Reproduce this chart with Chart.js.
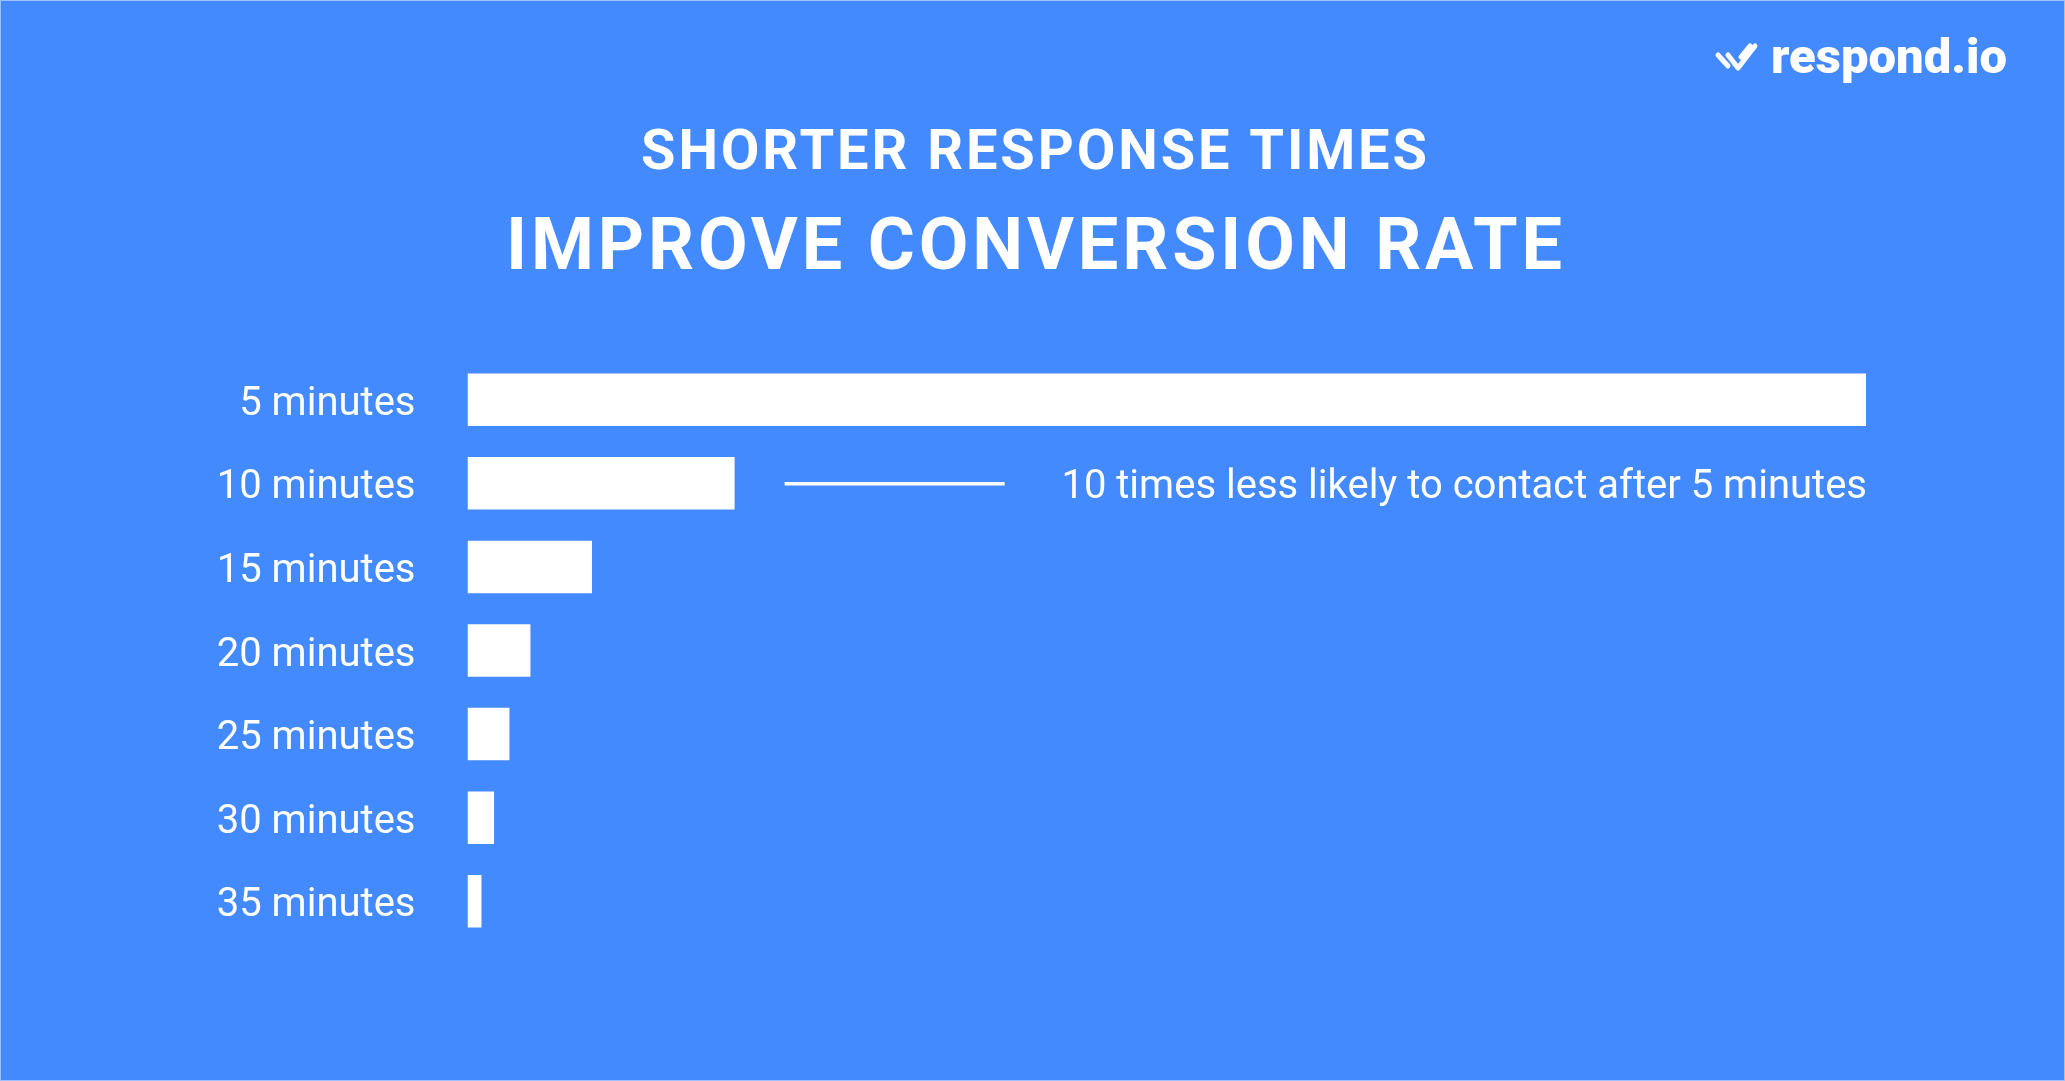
<!DOCTYPE html>
<html>
<head>
<meta charset="utf-8">
<script src="https://cdn.jsdelivr.net/npm/chart.js@4"></script>
<style>
  html, body { margin: 0; padding: 0; background: #448AFF; overflow: hidden; }
  #wrap { width: 2065px; height: 1081px; }
</style>
</head>
<body>
<div id="wrap"><canvas id="c" width="2065" height="1081"></canvas></div>
<script>
// ---- data ----
const categories = ["5 minutes", "10 minutes", "15 minutes", "20 minutes", "25 minutes", "30 minutes", "35 minutes"];
const values = [100, 19.1, 8.9, 4.5, 3.0, 1.9, 1.0];
const titleLine1 = "SHORTER RESPONSE TIMES";
const titleLine2 = "IMPROVE CONVERSION RATE";
const annotationText = "10 times less likely to contact after 5 minutes";
const annotationCategory = "10 minutes";
const logoText = "respond.io";

const BG = "#448AFF";
const FG = "#FFFFFF";

function drawSpaced(ctx, text, font, left, right, baseline) {
  ctx.save();
  ctx.font = font;
  ctx.letterSpacing = "0px";
  const n = text.length;
  const w0 = ctx.measureText(text).width;
  const sp = (right - left - w0) / (n - 1);
  ctx.letterSpacing = sp + "px";
  ctx.textAlign = "left";
  ctx.textBaseline = "alphabetic";
  ctx.fillStyle = FG;
  ctx.fillText(text, left, baseline);
  ctx.restore();
}

const decorPlugin = {
  id: "decor",
  beforeDraw(chart) {
    const ctx = chart.ctx;
    const W = chart.width, H = chart.height;
    ctx.save();
    ctx.fillStyle = BG;
    ctx.fillRect(0, 0, W, H);
    ctx.strokeStyle = "#9DC0FF";
    ctx.lineWidth = 2;
    ctx.strokeRect(0, 0, W, H);
    ctx.restore();
  },
  afterDraw(chart) {
    const ctx = chart.ctx;
    const xs = chart.scales.x, ys = chart.scales.y;
    // titles
    drawSpaced(ctx, titleLine1, "700 56px Roboto", 641, 1427, 169);
    drawSpaced(ctx, titleLine2, "700 72px Roboto", 506, 1562, 269);

    // annotation
    const idx = categories.indexOf(annotationCategory);
    const yc = ys.getPixelForValue(idx);
    const barEnd = xs.getPixelForValue(values[idx]);
    ctx.save();
    ctx.strokeStyle = FG;
    ctx.lineWidth = 3.5;
    ctx.beginPath();
    ctx.moveTo(barEnd + 50, yc + 0.5);
    ctx.lineTo(barEnd + 270, yc + 0.5);
    ctx.stroke();
    ctx.font = "400 40px Roboto";
    ctx.fillStyle = FG;
    ctx.textAlign = "right";
    ctx.textBaseline = "alphabetic";
    ctx.fillText(annotationText, chart.chartArea.right + 1, yc + 14.5);
    ctx.restore();

    // logo
    ctx.save();
    ctx.strokeStyle = FG;
    ctx.lineWidth = 5;
    ctx.lineCap = "round";
    ctx.lineJoin = "round";
    ctx.beginPath();
    ctx.moveTo(1718, 55); ctx.lineTo(1728, 66);
    ctx.moveTo(1728, 55); ctx.lineTo(1738, 68); ctx.lineTo(1755, 46);
    ctx.moveTo(1741, 57); ctx.lineTo(1750, 46);
    ctx.stroke();
    ctx.font = "900 49px Roboto";
    ctx.fillStyle = FG;
    ctx.textAlign = "left";
    ctx.textBaseline = "alphabetic";
    ctx.fillText(logoText, 1771, 73);
    ctx.restore();
  }
};

function build() {
  new Chart(document.getElementById("c"), {
    type: "bar",
    data: {
      labels: categories,
      datasets: [{
        data: values,
        backgroundColor: FG,
        borderWidth: 0,
        categoryPercentage: 1.0,
        barPercentage: 0.628
      }]
    },
    options: {
      indexAxis: "y",
      responsive: false,
      animation: false,
      devicePixelRatio: 1,
      layout: { padding: { left: 0, right: 199, top: 358, bottom: 138 } },
      plugins: {
        legend: { display: false },
        tooltip: { enabled: false },
        title: { display: false }
      },
      scales: {
        x: {
          display: false,
          min: 0,
          max: 100
        },
        y: {
          grid: { display: false, drawTicks: false },
          border: { display: false },
          ticks: {
            color: FG,
            font: { family: "Roboto", size: 40, weight: "400" },
            padding: 52,
            labelOffset: 5
          },
          afterFit(scale) { scale.width = 467.5; }
        }
      }
    },
    plugins: [decorPlugin]
  });
}

if (document.fonts && document.fonts.load) {
  Promise.all([
    document.fonts.load("400 40px Roboto"),
    document.fonts.load("700 72px Roboto"),
    document.fonts.load("900 49px Roboto")
  ]).then(build, build);
} else {
  build();
}
</script>
</body>
</html>
